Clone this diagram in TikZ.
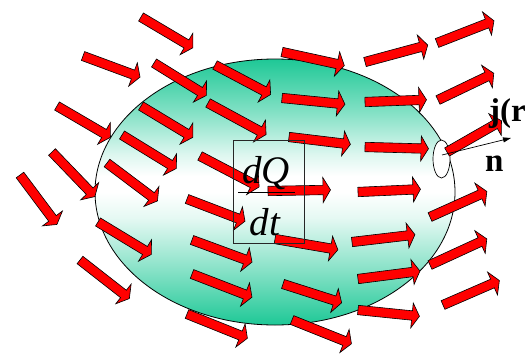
\documentclass[tikz,border=0pt]{standalone}
\usepackage{fontspec}
\setmainfont{Liberation Serif}
\usetikzlibrary{arrows.meta}
\definecolor{tealc}{RGB}{30,200,150}
\definecolor{arrred}{RGB}{255,0,0}
\pgfdeclareverticalshading{ellshade}{100bp}{color(0bp)=(tealc); color(25bp)=(tealc); color(35bp)=(tealc!55!white); color(45bp)=(tealc!12!white); color(50bp)=(white); color(53bp)=(white); color(57bp)=(tealc!15!white); color(65bp)=(tealc!55!white); color(75bp)=(tealc); color(100bp)=(tealc)}
\tikzset{
  blockarrow/.style={fill=arrred, draw=black, line width=0.6pt, line join=miter},
  bigfrac/.style={font=\fontsize{39}{39}\selectfont\itshape, inner sep=0pt},
  boldlabel/.style={font=\fontsize{33}{33}\selectfont\bfseries, inner sep=0pt},
}
\newcommand\blockarr[4]{%
  \pgfmathsetmacro\baang{atan2((#4)-(#2),(#3)-(#1))}%
  \pgfmathsetmacro\balen{veclen((#3)-(#1),(#4)-(#2))}%
  \begin{scope}[shift={(#1,#2)},rotate=-\baang]
    \filldraw[blockarrow] (0,-4.7) -- (\balen,-4.7) -- (\balen,-12.5) -- (\balen+7.5,0) -- (\balen,12.5) -- (\balen,4.7) -- (0,4.7) -- cycle;
  \end{scope}}
\begin{document}
\begin{tikzpicture}[x=1pt,y=-1pt]
\useasboundingbox (0,0) rectangle (531,354);
% big ellipse
\shadedraw[shading=ellshade, draw=black, line width=0.8pt] (275,192) ellipse [x radius=180, y radius=133];
% block arrows
\blockarr{141}{17}{186.5}{44}
\blockarr{83}{56}{133}{74.5}
\blockarr{154}{63}{200}{91.5}
\blockarr{57}{106}{104}{133.5}
\blockarr{141}{106}{186.5}{133.5}
\blockarr{215}{65}{264}{91}
\blockarr{122}{135}{170}{164.5}
\blockarr{107}{163}{151.5}{196.5}
\blockarr{208}{103}{259.5}{131}
\blockarr{200}{156}{252.5}{183.5}
\blockarr{187}{199}{238}{218.5}
\blockarr{52}{152}{89.7}{191.2}
\blockarr{20}{175}{52.5}{218.5}
\blockarr{80}{260}{123.5}{294}
\blockarr{98}{222}{145}{250.5}
\blockarr{282}{52}{337}{64}
\blockarr{282}{98}{337.5}{103.5}
\blockarr{289}{137}{343}{143.5}
\blockarr{365}{62}{420.5}{47}
\blockarr{437}{43}{487}{23.5}
\blockarr{365}{102}{419}{100}
\blockarr{438}{100}{487}{76.5}
\blockarr{365}{147}{421}{148.5}
\blockarr{268}{191}{323}{190}
\blockarr{358}{192}{413}{189.5}
\blockarr{430}{217}{480}{194.5}
\blockarr{275}{239}{330.5}{248.5}
\blockarr{352}{242}{407.5}{235.5}
\blockarr{430}{265}{480}{242}
\blockarr{358}{279}{412.5}{272}
\blockarr{443}{305}{492.5}{283.5}
\blockarr{283}{284}{334.5}{300.5}
\blockarr{358}{310}{412}{315.5}
\blockarr{292}{320}{344.5}{341}
\blockarr{192}{240}{245}{259.5}
\blockarr{192}{274}{245}{294.5}
\blockarr{187}{314}{240.5}{335.5}
% small surface element
\draw[fill=white, line width=0.7pt] (441.5,159) ellipse [x radius=8.5, y radius=19];
\blockarr{447}{152}{495}{124.5}
\coordinate (nstart) at (442,155);
\coordinate (nend) at (511,138);
\draw[line width=0.7pt, -{Triangle[length=8pt,width=5pt]}] (nstart) -- (nend);
% dQ/dt box
\node[draw=black!85, line width=0.7pt, minimum width=71pt, minimum height=103pt, inner sep=0pt] (box) at (268.5,191.5) {};
\draw[line width=0.8pt] (238,192) -- (295,192);
\node[bigfrac, anchor=base] (dq) at (266,183) {dQ};
\node[bigfrac, anchor=base] (dt) at (265,235) {dt};
% labels
\node[boldlabel, anchor=base west] (jr) at (489,121) {j(r};
\node[boldlabel, anchor=base west] (nlab) at (485,171) {n};
\end{tikzpicture}
\end{document}
